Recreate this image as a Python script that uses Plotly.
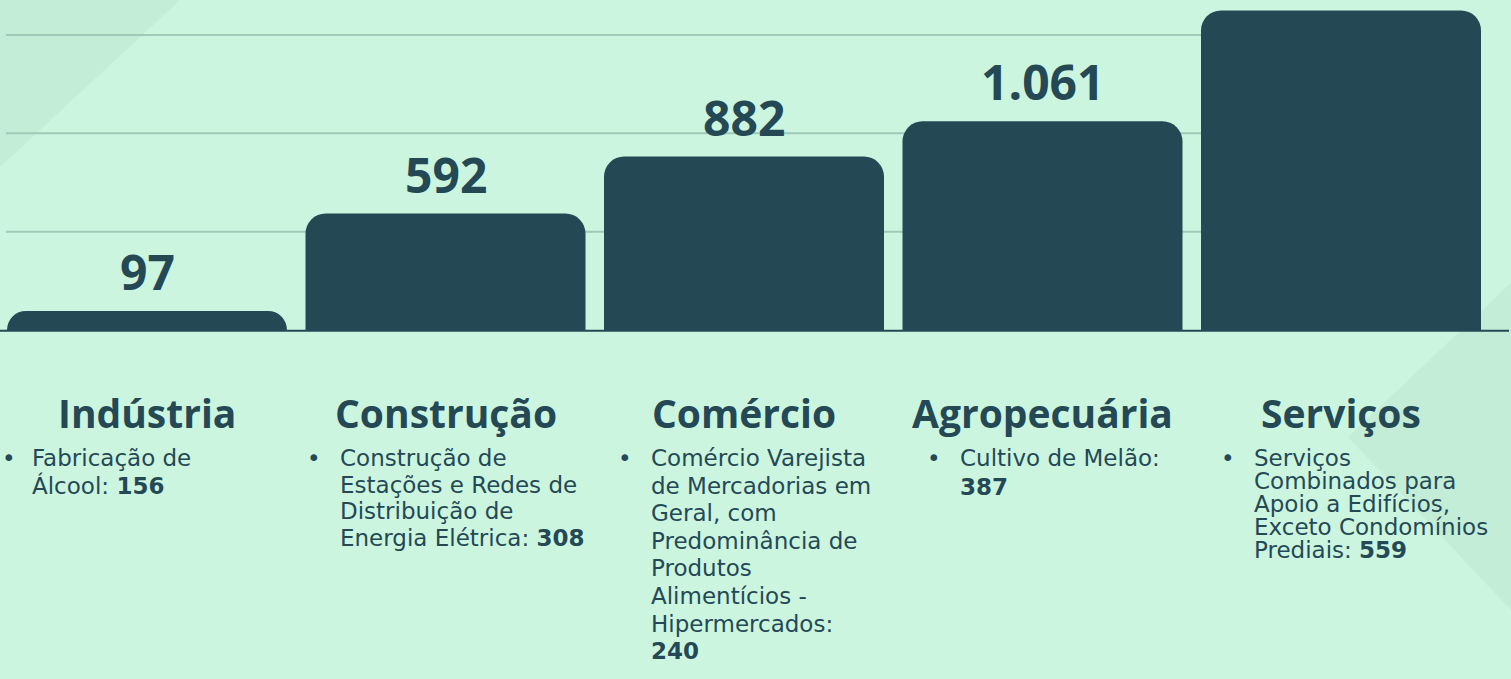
import plotly.graph_objects as go

# ---------------- data ----------------
categories = ["Indústria", "Construção", "Comércio", "Agropecuária", "Serviços"]
totals = [97, 592, 882, 1061, 1625]
value_labels = ["97", "592", "882", "1.061", ""]
activity_lines = [
    ["Fabricação de", "Álcool:"],
    ["Construção de", "Estações e Redes de", "Distribuição de", "Energia Elétrica:"],
    ["Comércio Varejista", "de Mercadorias em", "Geral, com", "Predominância de",
     "Produtos", "Alimentícios -", "Hipermercados:"],
    ["Cultivo de Melão:"],
    ["Serviços", "Combinados para", "Apoio a Edifícios,", "Exceto Condomínios", "Prediais:"],
]
activity_values = [156, 308, 240, 387, 559]
number_on_own_line = [False, False, True, True, False]

# ---------------- layout constants ----------------
W, H = 1511, 679
BG = "#ccf5e0"
BG_DARK = "#c3edd7"
BAR = "#244955"
GRID = "#9dcab9"
TXT = "#244955"
PITCH = 298.5
C0 = 147.0
BASE_PX = 330.0
SCALE = 0.19667  # px per unit
desc_offsets = [-117, -108, -95, -85, -89]
line_gaps = [27, 26.7, 27.6, 29, 23]
desc_top = 458
title_y = 413
DESC_SIZE = 23


def py(p):
    return 1 - p / H


fig = go.Figure(
    go.Bar(
        x=categories,
        y=totals,
        width=280 / PITCH,
        marker=dict(color=BAR, cornerradius=20, line=dict(width=0)),
        hoverinfo="skip",
    )
)

shapes = [
    dict(type="path", xref="paper", yref="paper",
         path=f"M 0 1 L {180/W} 1 L 0 {py(167)} Z",
         fillcolor=BG_DARK, line=dict(width=0), layer="below"),
    dict(type="path", xref="paper", yref="paper",
         path=f"M 1 {py(283)} L {1348/W} {py(437)} L 1 {py(610)} Z",
         fillcolor=BG_DARK, line=dict(width=0), layer="below"),
]
for g in [500, 1000, 1500]:
    shapes.append(dict(type="line", xref="x", yref="y", x0=-0.4725, x1=4, y0=g, y1=g,
                       line=dict(color=GRID, width=2), layer="below"))
shapes.append(dict(type="line", xref="paper", yref="paper", x0=0, x1=1509 / W,
                   y0=py(330.8), y1=py(330.8), line=dict(color=BAR, width=2)))

annotations = []
for i, cat in enumerate(categories):
    if value_labels[i]:
        annotations.append(dict(
            x=cat, y=totals[i], xref="x", yref="y", text=f"<b>{value_labels[i]}</b>",
            showarrow=False, yanchor="bottom", yshift=5,
            font=dict(family="Open Sans", size=48, color=TXT)))
    annotations.append(dict(
        x=cat, xref="x", y=py(title_y), yref="paper", text=f"<b>{cat}</b>",
        showarrow=False, yanchor="middle", xanchor="center",
        font=dict(family="Open Sans", size=39, color=TXT)))
    lines = list(activity_lines[i])
    num = f"<b>{activity_values[i]}</b>"
    if number_on_own_line[i]:
        lines.append(num)
    else:
        lines[-1] = lines[-1] + " " + num
    fam = "DejaVu Sans"
    for k, ln in enumerate(lines):
        annotations.append(dict(
            x=cat, xref="x", xshift=desc_offsets[i], y=py(desc_top + k * line_gaps[i]),
            yref="paper", text=ln, showarrow=False, xanchor="left", yanchor="middle",
            font=dict(family=fam, size=DESC_SIZE, color=TXT)))
    # bullet: box left edge, kept inside the page
    bullet_left = max(0.0, C0 + i * PITCH + desc_offsets[i] - 33)
    annotations.append(dict(
        x=bullet_left / W, xref="paper", y=py(desc_top), yref="paper",
        text="•", showarrow=False, xanchor="left", yanchor="middle",
        font=dict(family=fam, size=DESC_SIZE, color=TXT)))

fig.update_layout(
    width=W, height=H,
    margin=dict(l=0, r=0, t=0, b=0, pad=0),
    paper_bgcolor=BG, plot_bgcolor=BG,
    showlegend=False,
    xaxis=dict(range=[-C0 / PITCH, (W - C0) / PITCH], domain=[0, 1], visible=False,
               fixedrange=True),
    yaxis=dict(range=[0, BASE_PX / SCALE], domain=[(H - BASE_PX) / H, 1], visible=False,
               fixedrange=True),
    shapes=shapes,
    annotations=annotations,
)

fig.write_html(
    "out.html",
    config={"displayModeBar": False},
    post_script="document.body.style.margin='0';document.body.style.padding='0';"
                "document.body.style.overflow='hidden';"
                "document.body.style.background='" + BG + "';",
)
